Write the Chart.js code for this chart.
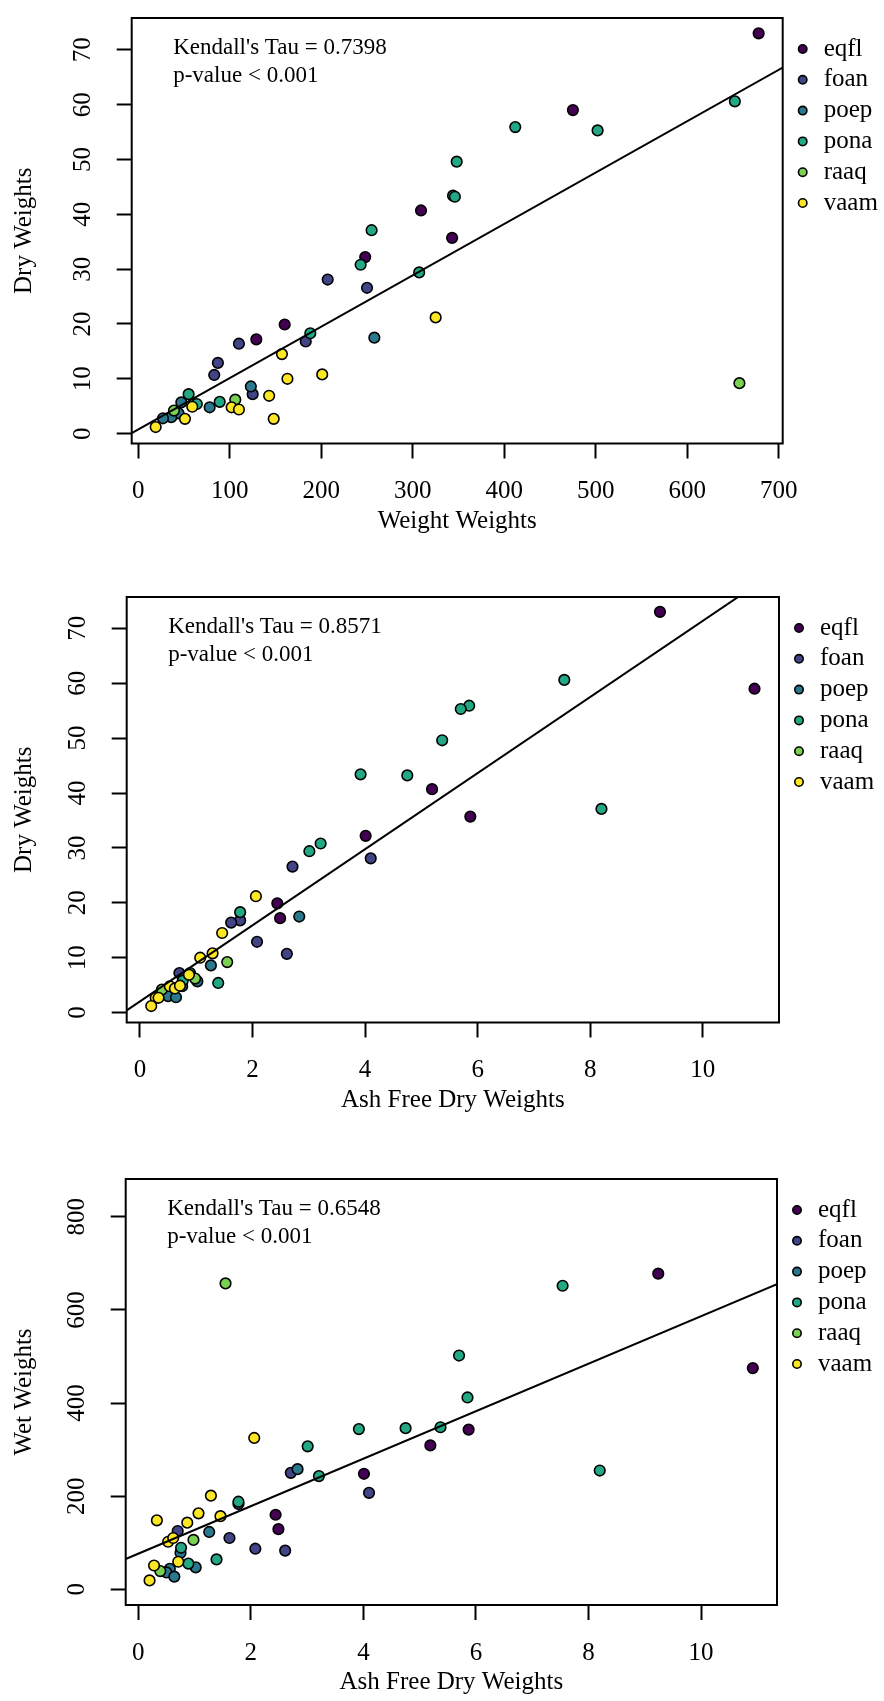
<!DOCTYPE html>
<html><head><meta charset="utf-8">
<script src="https://cdn.jsdelivr.net/npm/chart.js@4.4.0/dist/chart.umd.min.js"></script>
<style>
html,body{margin:0;padding:0;background:#fff;width:884px;height:1701px;overflow:hidden;position:relative}
canvas{position:absolute;left:0}
</style></head><body>
<canvas id="c1" width="884" height="567" style="top:0px"></canvas>
<canvas id="c2" width="884" height="567" style="top:579px"></canvas>
<canvas id="c3" width="884" height="567" style="top:1161px"></canvas>
<script>
// ---- data ----
const species = ['eqfl','foan','poep','pona','raaq','vaam'];
const speciesColors = ['#440154','#414487','#2A788E','#22A884','#7AD151','#FDE725'];

const eqflWet  = [678, 475, 309, 343, 248, 160, 129];
const eqflDry  = [73.0, 59.0, 40.7, 35.7, 32.2, 19.9, 17.2];
const eqflAfdw = [9.24, 10.92, 5.19, 5.87, 4.01, 2.44, 2.49];

const foanWet  = [207, 250, 183, 110, 87, 83, 125];
const foanDry  = [28.1, 26.6, 16.8, 16.4, 12.9, 10.7, 7.2];
const foanAfdw = [4.10, 2.71, 1.78, 1.62, 2.08, 2.61, 0.70];

const poepWet  = [258, 123, 78, 47, 44, 36, 27];
const poepDry  = [17.5, 8.6, 4.8, 5.7, 3.7, 3.0, 2.8];
const poepAfdw = [2.83, 1.26, 0.75, 1.02, 0.56, 0.50, 0.64];

const ponaWet  = [652, 412, 502, 348, 344, 346, 255, 243, 307, 188, 89, 55, 64];
const ponaDry  = [60.6, 55.9, 55.3, 49.6, 43.4, 43.2, 37.1, 30.8, 29.4, 18.3, 5.8, 7.2, 5.4];
const ponaAfdw = [7.54, 5.85, 5.70, 5.37, 3.92, 4.75, 8.20, 3.21, 3.01, 1.78, 0.76, 0.89, 1.39];

const raaqWet  = [657, 106, 39];
const raaqDry  = [9.2, 6.2, 4.2];
const raaqAfdw = [1.55, 0.98, 0.39];

const vaamWet  = [325, 157, 163, 201, 143, 102, 110, 59, 51, 148, 19];
const vaamDry  = [21.2, 14.5, 10.0, 10.8, 6.9, 4.8, 4.4, 4.9, 2.7, 2.7, 1.2];
const vaamAfdw = [2.06, 1.46, 1.07, 1.29, 0.87, 0.53, 0.62, 0.71, 0.28, 0.33, 0.20];

const wetBySpecies  = [eqflWet, foanWet, poepWet, ponaWet, raaqWet, vaamWet];
const dryBySpecies  = [eqflDry, foanDry, poepDry, ponaDry, raaqDry, vaamDry];
const afdwBySpecies = [eqflAfdw, foanAfdw, poepAfdw, ponaAfdw, raaqAfdw, vaamAfdw];

const weightTicks = [0, 100, 200, 300, 400, 500, 600, 700];
const dryTicks    = [0, 10, 20, 30, 40, 50, 60, 70];
const afdwTicks   = [0, 2, 4, 6, 8, 10];
const wetTicks    = [0, 200, 400, 600, 800];

const tauLabels = ["Kendall's Tau = 0.7398", "Kendall's Tau = 0.8571", "Kendall's Tau = 0.6548"];
const pLabel = "p-value < 0.001";
const fitIntercepts = [0.77, 2.05, 76.4];
const fitSlopes     = [0.0937, 6.93, 51.0];

// ---- rendering ----
Chart.defaults.font.family = "'Liberation Serif', 'Times New Roman', serif";
Chart.defaults.color = '#000';
const H = 567;

const rStyle = {
  id: 'rStyle',
  afterDraw(chart, args, o) {
    const ctx = chart.ctx, ca = chart.chartArea, cfg = o.cfg;
    ctx.save();
    // box
    ctx.strokeStyle = '#000'; ctx.lineWidth = 2;
    ctx.strokeRect(ca.left, ca.top, ca.right - ca.left, ca.bottom - ca.top);
    // rotated y tick labels
    const ys = chart.scales.y;
    ctx.fillStyle = '#000';
    ctx.font = "25px 'Liberation Serif', 'Times New Roman', serif";
    ctx.textAlign = 'center'; ctx.textBaseline = 'middle';
    cfg.yTicks.forEach(v => {
      const py = ys.getPixelForValue(v);
      ctx.save(); ctx.translate(ca.left - 48, py); ctx.rotate(-Math.PI / 2);
      ctx.fillText(String(v), 0, 0); ctx.restore();
    });
    // annotation
    ctx.font = "23px 'Liberation Serif', 'Times New Roman', serif";
    ctx.textAlign = 'left'; ctx.textBaseline = 'alphabetic';
    ctx.fillText(cfg.tau, ca.left + 41.5, ca.top + 36);
    ctx.fillText(pLabel, ca.left + 41.5, ca.top + 64);
    // legend
    ctx.font = "25px 'Liberation Serif', 'Times New Roman', serif";
    ctx.textBaseline = 'middle';
    species.forEach((sp, i) => {
      const cx = ca.right + 20, cy = ca.top + 31 + 30.8 * i;
      ctx.beginPath(); ctx.arc(cx, cy, 4.2, 0, Math.PI * 2);
      ctx.fillStyle = speciesColors[i]; ctx.fill();
      ctx.lineWidth = 1.6; ctx.strokeStyle = '#000'; ctx.stroke();
      ctx.fillStyle = '#000';
      ctx.fillText(sp, cx + 21, cy);
    });
    ctx.restore();
  }
};

function makePanel(id, cfg) {
  const datasets = species.map((sp, i) => ({
    label: sp,
    data: cfg.xs[i].map((x, j) => ({ x: x, y: cfg.ys[i][j] })),
    backgroundColor: speciesColors[i],
    borderColor: '#000',
    borderWidth: 1.6,
    pointRadius: 5.3,
    pointHoverRadius: 5.3,
    order: species.length - i + 1,
    showLine: false
  }));
  const a = fitIntercepts[cfg.k], b = fitSlopes[cfg.k];
  datasets.push({
    type: 'line', label: 'fit',
    data: [{ x: cfg.xMin, y: a + b * cfg.xMin }, { x: cfg.xMax, y: a + b * cfg.xMax }],
    borderColor: '#000', borderWidth: 2, pointRadius: 0, fill: false, order: 0, clip: 0
  });
  const grid = { display: true, drawOnChartArea: false, drawTicks: true, tickLength: 15, tickWidth: 2, tickColor: '#000' };
  new Chart(document.getElementById(id), {
    type: 'scatter',
    data: { datasets },
    options: {
      responsive: false, animation: false, devicePixelRatio: 1,
      layout: { padding: { top: cfg.T, right: 884 - cfg.R, bottom: 0, left: 0 } },
      plugins: { legend: { display: false }, tooltip: { enabled: false }, rStyle: { cfg: cfg } },
      scales: {
        x: {
          type: 'linear', min: cfg.xMin, max: cfg.xMax, bounds: 'data',
          afterBuildTicks: s => { s.ticks = cfg.xTicks.map(v => ({ value: v })); },
          afterFit: s => { s.height = H - cfg.B; },
          ticks: { font: { size: 25 }, color: '#000', padding: 18, autoSkip: false, maxRotation: 0, minRotation: 0, callback: v => String(v) },
          grid: grid, border: { display: false },
          title: { display: true, text: cfg.xTitle, font: { size: 25 }, color: '#000', padding: { top: 0, bottom: 31 } }
        },
        y: {
          type: 'linear', min: cfg.yMin, max: cfg.yMax, bounds: 'data',
          afterBuildTicks: s => { s.ticks = cfg.yTicks.map(v => ({ value: v })); },
          afterFit: s => { s.width = cfg.L; },
          ticks: { font: { size: 25 }, color: 'rgba(0,0,0,0)', autoSkip: false, callback: v => String(v) },
          grid: grid, border: { display: false },
          title: { display: true, text: cfg.yTitle, font: { size: 25 }, color: '#000', padding: { top: 9, bottom: 0 } }
        }
      }
    },
    plugins: [rStyle]
  });
}

makePanel('c1', { k: 0, xs: wetBySpecies, ys: dryBySpecies, xTicks: weightTicks, yTicks: dryTicks,
  xMin: -7.2, xMax: 704.3, yMin: -1.8, yMax: 75.8, T: 12, B: 443.5, L: 131.7, R: 782.7,
  xTitle: 'Weight Weights', yTitle: 'Dry Weights', tau: tauLabels[0] });
makePanel('c2', { k: 1, xs: afdwBySpecies, ys: dryBySpecies, xTicks: afdwTicks, yTicks: dryTicks,
  xMin: -0.236, xMax: 11.355, yMin: -1.8, yMax: 75.7, T: 12, B: 443.5, L: 126.7, R: 779,
  xTitle: 'Ash Free Dry Weights', yTitle: 'Dry Weights', tau: tauLabels[1] });
makePanel('c3', { k: 2, xs: afdwBySpecies, ys: wetBySpecies, xTicks: afdwTicks, yTicks: wetTicks,
  xMin: -0.224, xMax: 11.35, yMin: -33.9, yMax: 881.3, T: 12, B: 444, L: 125.7, R: 777,
  xTitle: 'Ash Free Dry Weights', yTitle: 'Wet Weights', tau: tauLabels[2] });
</script>
</body></html>
